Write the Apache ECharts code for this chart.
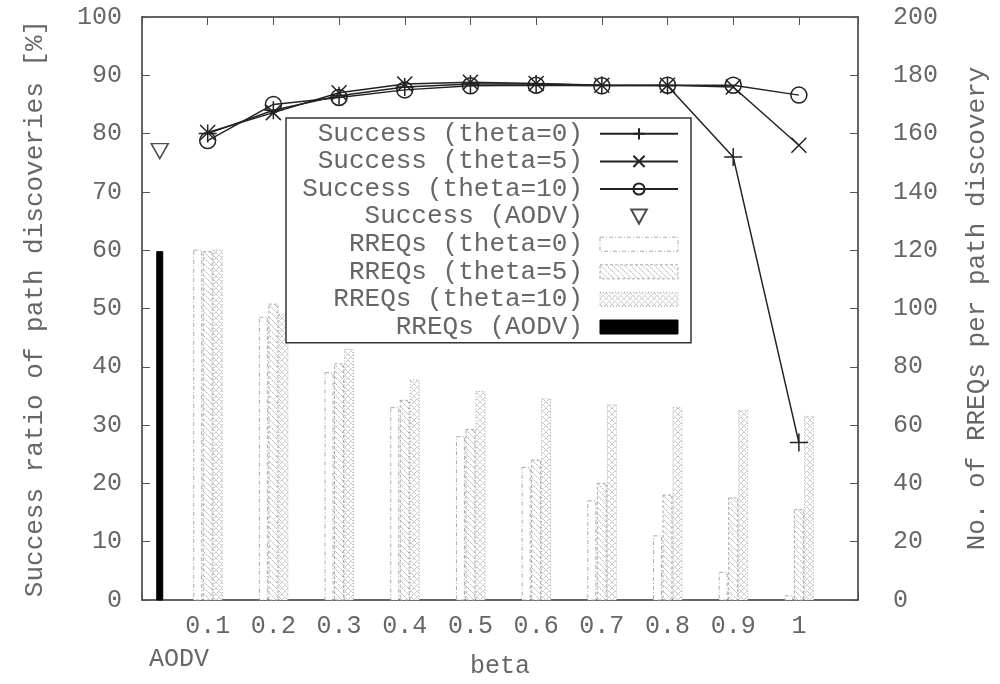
<!DOCTYPE html>
<html>
<head>
<meta charset="utf-8">
<script src="https://cdn.jsdelivr.net/npm/echarts@6/dist/echarts.min.js"></script>
<style>
  html, body { margin: 0; padding: 0; background: #fff; }
  #chart { width: 1000px; height: 684px; }
</style>
</head>
<body>
<div id="chart"></div>
<script>
// data
var betas = [0.1, 0.2, 0.3, 0.4, 0.5, 0.6, 0.7, 0.8, 0.9, 1.0]
var successTheta0 = [80, 84, 86.5, 88, 88.5, 88.5, 88.3, 88.2, 76, 27]
var successTheta5 = [80.2, 83.6, 87, 88.5, 88.8, 88.6, 88.3, 88.3, 88, 78]
var successTheta10 = [78.8, 85, 86.2, 87.5, 88.2, 88.3, 88.2, 88.3, 88.3, 86.6]
var rreqsTheta0 = [120, 97, 78, 66, 56, 45.5, 34, 22, 9.5, 1.4]
var rreqsTheta5 = [119.5, 101.5, 81, 68.5, 58.5, 48, 40, 36, 35, 31]
var rreqsTheta10 = [120, 98, 86, 75.5, 71.5, 69, 67, 66, 65, 63]
var aodvX = [0.027]
var aodvSuccess = [77]
var aodvRreqs = [119.5]

var FONT = 'Liberation Mono'
var TXT = '#666'
var LINE = '#222'

// fill patterns for the bars
function makePattern(draw) {
  var c = document.createElement('canvas')
  c.width = 6
  c.height = 6
  var ctx = c.getContext('2d')
  ctx.fillStyle = '#fff'
  ctx.fillRect(0, 0, 6, 6)
  draw(ctx)
  return { image: c, repeat: 'repeat' }
}
var pat0 = makePattern(function (ctx) {})
var pat5 = makePattern(function (ctx) {
  ctx.strokeStyle = '#b0b0b0'
  ctx.lineWidth = 1
  ctx.setLineDash([2, 1])
  ctx.beginPath()
  ctx.moveTo(0, 0); ctx.lineTo(6, 6)
  ctx.moveTo(-3, 3); ctx.lineTo(3, 9)
  ctx.moveTo(3, -3); ctx.lineTo(9, 3)
  ctx.stroke()
})
var pat10 = makePattern(function (ctx) {
  ctx.strokeStyle = '#aaa'
  ctx.lineWidth = 1
  ctx.setLineDash([1, 1])
  ctx.beginPath()
  ctx.moveTo(0, 0); ctx.lineTo(6, 6)
  ctx.moveTo(6, 0); ctx.lineTo(0, 6)
  ctx.stroke()
})

function barRenderer(offset, width, fill, stroke, dash) {
  return function (params, api) {
    var top = api.coord([api.value(0), api.value(1)])
    var base = api.coord([api.value(0), 0])
    return {
      type: 'rect',
      shape: { x: top[0] + offset - width / 2, y: top[1], width: width, height: base[1] - top[1] },
      style: { fill: fill, stroke: stroke, lineWidth: 1, lineDash: dash }
    }
  }
}

function pairs(xs, ys) {
  return xs.map(function (x, i) { return [x, ys[i]] })
}

var PLUS = 'path://M5,0L5,10M0,5L10,5'
var CROSS = 'path://M0,0L10,10M10,0L0,10'
var TRI = 'path://M0,0L10,0L5,9Z'

function lineSeries(name, values, symbol, size) {
  return {
    name: name,
    type: 'line',
    data: pairs(betas, values),
    symbol: symbol,
    symbolSize: size,
    lineStyle: { color: LINE, width: 1.5 },
    itemStyle: { color: 'rgba(0,0,0,0)', borderColor: LINE, borderWidth: 1.5 },
    z: 5
  }
}

// keep every axis on its own edge (x starts at 0, so onZero would move them)
var border = { show: true, onZero: false, lineStyle: { color: '#333', width: 1.5 } }
var tick = { show: true, inside: true, length: 8, lineStyle: { color: '#555' } }

var chart = echarts.init(document.getElementById('chart'))

var option = {
  animation: false,
  backgroundColor: '#fff',
  textStyle: { fontFamily: FONT },
  grid: { left: 142, right: 142, top: 17, bottom: 83 },
  legend: {
    orient: 'vertical',
    left: 286,
    top: 118,
    align: 'right',
    padding: [2, 12, 2, 4],
    itemGap: 0,
    itemWidth: 78,
    itemHeight: 14,
    backgroundColor: '#fff',
    borderColor: '#333',
    borderWidth: 1.5,
    borderRadius: 0,
    selectedMode: false,
    z: 20,
    textStyle: { fontFamily: FONT, fontSize: 26, color: TXT, width: 293, align: 'right', lineHeight: 27.6, padding: [0, 12, 0, 0] },
    data: [
      'Success (theta=0)', 'Success (theta=5)', 'Success (theta=10)', 'Success (AODV)',
      { name: 'RREQs (theta=0)', icon: 'rect', itemStyle: { color: pat0, borderColor: '#aaa', borderWidth: 1, borderType: [4, 2, 1, 2] } },
      { name: 'RREQs (theta=5)', icon: 'rect', itemStyle: { color: pat5, borderColor: '#aaa', borderWidth: 1, borderType: [3, 2] } },
      { name: 'RREQs (theta=10)', icon: 'rect', itemStyle: { color: pat10, borderColor: '#aaa', borderWidth: 1, borderType: [1, 2] } },
      { name: 'RREQs (AODV)', icon: 'rect', itemStyle: { color: '#000', borderColor: '#000', borderWidth: 1 } }
    ]
  },
  xAxis: [{
    type: 'value',
    min: 0,
    max: 1.09,
    interval: 0.1,
    position: 'bottom',
    name: 'beta',
    nameLocation: 'middle',
    nameGap: 54,
    nameTextStyle: { fontFamily: FONT, fontSize: 25, color: TXT },
    axisLine: border,
    axisTick: tick,
    splitLine: { show: false },
    axisLabel: {
      fontFamily: FONT, fontSize: 25, color: TXT, margin: 14,
      formatter: function (v) {
        var k = Math.round(v * 10)
        if (k === 0 || Math.abs(v * 10 - k) > 1e-6) return ''
        return k === 10 ? '1' : (k / 10).toFixed(1)
      }
    }
  }, {
    type: 'value',
    min: 0,
    max: 1.09,
    interval: 0.1,
    position: 'top',
    axisLine: border,
    axisTick: tick,
    axisLabel: { show: false },
    splitLine: { show: false }
  }],
  yAxis: [{
    type: 'value',
    min: 0,
    max: 100,
    interval: 10,
    position: 'left',
    name: 'Success ratio of path discoveries [%]',
    nameLocation: 'middle',
    nameGap: 94,
    nameRotate: 90,
    nameTextStyle: { fontFamily: FONT, fontSize: 26, color: TXT },
    axisLine: border,
    axisTick: tick,
    splitLine: { show: false },
    axisLabel: { fontFamily: FONT, fontSize: 25, color: TXT, margin: 20 }
  }, {
    type: 'value',
    min: 0,
    max: 200,
    interval: 20,
    position: 'right',
    name: 'No. of RREQs per path discovery',
    nameLocation: 'middle',
    nameGap: 106,
    nameRotate: 90,
    nameTextStyle: { fontFamily: FONT, fontSize: 26, color: TXT },
    axisLine: border,
    axisTick: tick,
    splitLine: { show: false },
    axisLabel: { fontFamily: FONT, fontSize: 25, color: TXT, margin: 35 }
  }],
  series: [
    lineSeries('Success (theta=0)', successTheta0, PLUS, 18),
    lineSeries('Success (theta=5)', successTheta5, CROSS, 15),
    lineSeries('Success (theta=10)', successTheta10, 'circle', 16),
    {
      name: 'Success (AODV)',
      type: 'scatter',
      data: pairs(aodvX, aodvSuccess),
      symbol: TRI,
      symbolSize: [17, 15],
      itemStyle: { color: 'rgba(0,0,0,0)', borderColor: LINE, borderWidth: 1.5 },
      z: 5
    },
    {
      name: 'RREQs (theta=0)', type: 'custom', yAxisIndex: 1,
      data: pairs(betas, rreqsTheta0),
      renderItem: barRenderer(-10, 8, pat0, '#aaa', [4, 2, 1, 2]),
      itemStyle: { color: pat0 }, z: 2
    },
    {
      name: 'RREQs (theta=5)', type: 'custom', yAxisIndex: 1,
      data: pairs(betas, rreqsTheta5),
      renderItem: barRenderer(0, 9, pat5, '#aaa', [3, 2]),
      itemStyle: { color: pat5 }, z: 2
    },
    {
      name: 'RREQs (theta=10)', type: 'custom', yAxisIndex: 1,
      data: pairs(betas, rreqsTheta10),
      renderItem: barRenderer(10, 9, pat10, '#aaa', [1, 2]),
      itemStyle: { color: pat10 }, z: 2
    },
    {
      name: 'RREQs (AODV)', type: 'custom', yAxisIndex: 1,
      data: pairs(aodvX, aodvRreqs),
      renderItem: barRenderer(0, 6, '#000', '#000', null),
      itemStyle: { color: '#000' }, z: 2
    }
  ],
  graphic: [{
    type: 'text',
    left: 149,
    top: 647,
    style: { text: 'AODV', fill: TXT, font: '25px "Liberation Mono"' }
  }]
}

chart.setOption(option)
</script>
</body>
</html>
